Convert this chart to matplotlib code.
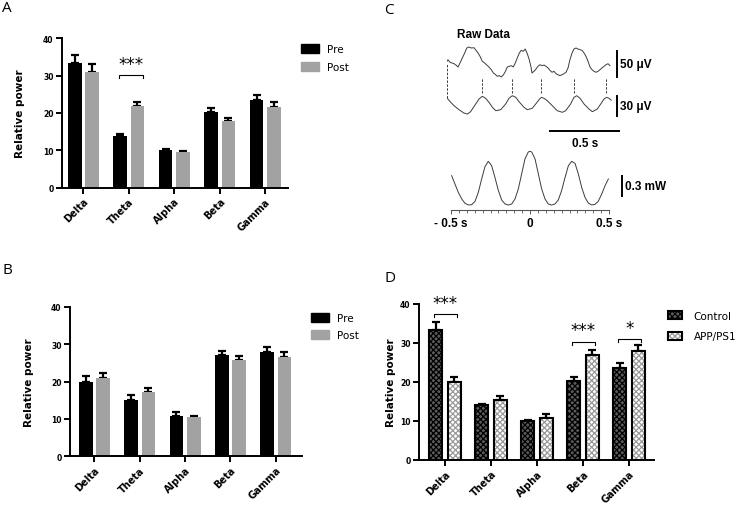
import numpy as np
import matplotlib
matplotlib.use('Agg')
import matplotlib.pyplot as plt
from matplotlib.patches import Patch

# ---------------- data ----------------
bands = ['Delta', 'Theta', 'Alpha', 'Beta', 'Gamma']

a_pre = [33.4, 13.9, 10.0, 20.4, 23.6]
a_pre_err = [2.1, 0.6, 0.45, 1.0, 1.3]
a_post = [31.1, 21.8, 9.45, 17.8, 21.5]
a_post_err = [2.0, 1.2, 0.35, 0.95, 1.5]

b_pre = [20.0, 15.2, 10.9, 27.05, 28.0]
b_pre_err = [1.4, 1.25, 1.0, 1.25, 1.4]
b_post = [21.0, 17.1, 10.5, 25.8, 26.6]
b_post_err = [1.25, 1.15, 0.35, 1.2, 1.25]

d_ctrl = [33.35, 14.0, 9.9, 20.3, 23.6]
d_ctrl_err = [2.1, 0.45, 0.35, 1.0, 1.2]
d_app = [19.96, 15.3, 10.75, 26.95, 27.97]
d_app_err = [1.45, 1.1, 1.1, 1.35, 1.5]

a_sig = {'Theta': '***'}
d_sig = {'Delta': '***', 'Beta': '***', 'Gamma': '*'}

# panel C: raw trace (s, uV)
raw_t = [0.000, 0.007, 0.022, 0.036, 0.051, 0.065, 0.080, 0.094, 0.111, 0.128,
         0.143, 0.159, 0.176, 0.196, 0.210, 0.225, 0.239, 0.256, 0.273, 0.288,
         0.304, 0.321, 0.336, 0.353, 0.364, 0.379, 0.393, 0.408, 0.422, 0.437,
         0.451, 0.466, 0.480, 0.495, 0.509, 0.524, 0.538, 0.553, 0.567, 0.582,
         0.596, 0.609, 0.616, 0.630, 0.645, 0.659, 0.674, 0.688, 0.703, 0.717,
         0.732, 0.746, 0.761, 0.775, 0.790, 0.804, 0.819, 0.833, 0.848, 0.862,
         0.877, 0.891, 0.906, 0.920, 0.935, 0.949, 0.964, 0.978, 0.993, 1.007,
         1.022, 1.036, 1.051, 1.065, 1.080, 1.094, 1.109, 1.123, 1.138, 1.152,
         1.167, 1.181]
raw_uv = [1.3, 4.4, -0.6, -1.9, -3.3, -5.8, -9.6, -1.9, 7.7, 17.3,
          26.9, 28.8, 26.9, 27.5, 22.5, 17.3, 11.0, 1.3, -1.9, -5.8,
          -9.6, -14.8, -21.2, -24.4, -27.5, -26.3, -28.8, -25.0, -18.7, -9.6,
          -8.3, -7.1, -9.6, -1.9, 7.7, 17.3, 22.5, 20.6, 25.0, 16.0,
          4.4, -10.0, -21.2, -17.9, -13.5, -8.3, -5.2, -7.1, -5.8, -8.3,
          -11.5, -16.0, -19.8, -17.9, -22.5, -24.4, -26.3, -24.4, -22.5, -19.8,
          -11.5, 4.4, 17.3, 25.0, 26.9, 25.0, 23.7, 22.5, 17.3, 11.0,
          1.3, -9.6, -14.8, -17.9, -19.8, -17.9, -14.8, -11.5, -8.3, -5.2,
          -3.3, -7.1]

# panel C: filtered trace (s, uV)
filt_t = [0.002, 0.027, 0.051, 0.087, 0.123, 0.147, 0.171, 0.208, 0.232, 0.256,
          0.280, 0.304, 0.329, 0.353, 0.389, 0.425, 0.449, 0.473, 0.498, 0.522,
          0.558, 0.582, 0.618, 0.643, 0.667, 0.684, 0.703, 0.727, 0.763, 0.799,
          0.836, 0.860, 0.896, 0.920, 0.940, 0.964, 0.993, 1.029, 1.053, 1.089,
          1.114, 1.138, 1.157, 1.174, 1.190]
filt_uv = [9.3, 3.3, -1.8, -7.8, -12.8, -14.3, -10.8, 0.8, 8.3, 12.3,
           9.3, 3.3, -4.2, -9.3, -7.8, 0.8, 9.3, 13.2, 10.8, 4.2,
           -4.2, -7.8, -5.7, 0.8, 7.2, 10.8, 9.3, 5.7, -1.8, -9.3,
           -11.7, -9.3, 0.8, 10.8, 13.2, 9.3, 0.8, -6.8, -10.8, -6.8,
           0.8, 8.3, 10.8, 9.3, 6.5]

# times of the dashed alignment markers (s)
mark_t = [0.0, 0.254, 0.471, 0.681, 0.920, 1.152]

# panel C: autocorrelation (lag s, mW)
ac_lag = [-0.496, -0.475, -0.454, -0.432, -0.411, -0.390, -0.369, -0.348, -0.327, -0.306,
          -0.285, -0.264, -0.243, -0.222, -0.200, -0.179, -0.158, -0.137, -0.116, -0.095,
          -0.074, -0.053, -0.032, -0.011, 0.000, 0.011, 0.032, 0.053, 0.074, 0.095,
          0.116, 0.137, 0.158, 0.179, 0.200, 0.222, 0.243, 0.264, 0.285, 0.306,
          0.327, 0.348, 0.369, 0.390, 0.411, 0.432, 0.454, 0.475, 0.496]
ac_mw = [0.44, 0.315, 0.19, 0.09, 0.025, 0.0, 0.005, 0.055, 0.19, 0.39,
         0.575, 0.655, 0.59, 0.415, 0.215, 0.075, 0.015, 0.0, 0.015, 0.09,
         0.24, 0.465, 0.69, 0.795, 0.805, 0.795, 0.69, 0.465, 0.24, 0.09,
         0.015, 0.0, 0.015, 0.075, 0.215, 0.415, 0.59, 0.655, 0.625, 0.465,
         0.265, 0.115, 0.03, 0.0, 0.01, 0.055, 0.165, 0.29, 0.39]

# ---------------- figure ----------------
W, H = 745, 506
fig = plt.figure(figsize=(W / 100, H / 100), dpi=100)
plt.rcParams['hatch.linewidth'] = 0.9


def rect(l, t, r, b):
    return [l / W, 1 - b / H, (r - l) / W, (b - t) / H]


TICK_FS = 5.5
BOLD = dict(family='DejaVu Sans', weight='bold')


def style_bar_axes(ax, xlim, labelpad):
    ax.set_ylim(0, 40)
    ax.set_xlim(*xlim)
    ax.set_yticks([0, 10, 20, 30, 40])
    ax.set_xticks(range(len(bands)))
    ax.set_xticklabels(bands, rotation=45, ha='right', rotation_mode='anchor',
                       fontsize=7, **BOLD)
    for lab in ax.get_yticklabels():
        lab.set_fontsize(TICK_FS)
        lab.set_fontweight('bold')
        lab.set_family('DejaVu Sans')
    for s in ['top', 'right']:
        ax.spines[s].set_visible(False)
    for s in ['left', 'bottom']:
        ax.spines[s].set_linewidth(1.4)
    ax.tick_params(axis='both', width=1.4, length=4, pad=2)
    ax.set_ylabel('Relative power', fontsize=7.5, labelpad=labelpad, **BOLD)


def errbars(ax, x, y, e):
    ax.errorbar(x, y, yerr=[np.zeros(len(e)), e], fmt='none', ecolor='black',
                elinewidth=1.6, capsize=2.6, capthick=1.6, zorder=1)


def bracket(ax, i, y, text, off=0.2, drop=0.8):
    ax.plot([i - off, i - off, i + off, i + off], [y - drop, y, y, y - drop],
            color='black', lw=0.8)
    ax.text(i, y + 0.6, text, ha='center', va='bottom',
            fontsize=12, family='DejaVu Sans')


x = np.arange(len(bands))
OFF, WID = 0.19, 0.30
LEG = dict(loc='upper left', frameon=False, fontsize=7.5, borderpad=0, borderaxespad=0)

# ---- Panel A ----
axA = fig.add_axes(rect(62, 39.3, 288, 188.7))
axA.bar(x - OFF, a_pre, WID, color='black', zorder=2)
axA.bar(x + OFF, a_post, WID, color='#a2a2a2', zorder=2)
errbars(axA, x - OFF, a_pre, a_pre_err)
errbars(axA, x + OFF, a_post, a_post_err)
style_bar_axes(axA, (-0.47, 4.5), 13)
for k, t in a_sig.items():
    i = bands.index(k)
    bracket(axA, i + 0.05, 30.1, t, off=0.26)
fig.legend([Patch(color='black'), Patch(color='#a2a2a2')], ['Pre', 'Post'],
           bbox_to_anchor=(301 / W, 1 - 45 / H), handlelength=1.75, handleheight=0.95,
           handletextpad=0.75, labelspacing=0.75, **LEG)

# ---- Panel B ----
axB = fig.add_axes(rect(70, 308, 302, 457.3))
axB.bar(x - OFF, b_pre, WID, color='black', zorder=2)
axB.bar(x + OFF, b_post, WID, color='#a2a2a2', zorder=2)
errbars(axB, x - OFF, b_pre, b_pre_err)
errbars(axB, x + OFF, b_post, b_post_err)
style_bar_axes(axB, (-0.54, 4.58), 12)
fig.legend([Patch(color='black'), Patch(color='#a2a2a2')], ['Pre', 'Post'],
           bbox_to_anchor=(311 / W, 1 - 314 / H), handlelength=1.75, handleheight=0.95,
           handletextpad=0.75, labelspacing=0.65, **LEG)

# ---- Panel D ----
axD = fig.add_axes(rect(419, 305, 654, 461))
OFFD, WIDD = 0.2, 0.28
ctrl_fill = dict(facecolor='#5c5c5c', edgecolor='black', hatch='xxxxxx', linewidth=0)
app_fill = dict(facecolor='white', edgecolor='#9a9a9a', hatch='xxxxxx', linewidth=0)
outline = dict(fill=False, edgecolor='black', linewidth=1.5)
axD.bar(x - OFFD, d_ctrl, WIDD, zorder=2, **ctrl_fill)
axD.bar(x - OFFD, d_ctrl, WIDD, zorder=3, **outline)
axD.bar(x + OFFD, d_app, WIDD, zorder=2, **app_fill)
axD.bar(x + OFFD, d_app, WIDD, zorder=3, **outline)
errbars(axD, x - OFFD, d_ctrl, d_ctrl_err)
errbars(axD, x + OFFD, d_app, d_app_err)
style_bar_axes(axD, (-0.565, 4.54), 3)
sig_y = {'Delta': 37.4, 'Beta': 30.3, 'Gamma': 31.0}
for k, t in d_sig.items():
    i = bands.index(k)
    bracket(axD, i, sig_y[k], t, off=0.25)
h1 = (Patch(**ctrl_fill), Patch(**outline))
h2 = (Patch(**app_fill), Patch(**outline))
fig.legend([h1, h2], ['Control', 'APP/PS1'],
           bbox_to_anchor=(668 / W, 1 - 312 / H), handlelength=1.35, handleheight=0.8,
           handletextpad=1.1, labelspacing=1.0, **LEG)

# ---- Panel C ----
CF = dict(family='Liberation Sans', weight='bold', fontsize=8.5)
PXS = 138.0  # px per second in trace panels
axR = fig.add_axes(rect(447, 63 - 40 / 1.923, 447 + 1.2 * PXS, 63 + 40 / 1.923))
axR.plot(raw_t, raw_uv, color='#3c3c3c', lw=0.7)
axR.set_xlim(0, 1.2)
axR.set_ylim(-40, 40)
axR.axis('off')
axR.text(0.072, 53.8, 'Raw Data', ha='left', va='center', **CF)
axR.plot([1.232, 1.232], [-28.8, 21.2], color='black', lw=1.4, clip_on=False)
axR.text(1.255, -3.8, '50 \u03bcV', ha='left', va='center', **CF)

axF = fig.add_axes(rect(447, 105.5 - 20 / 1.5, 447 + 1.2 * PXS, 105.5 + 20 / 1.5))
axF.plot(filt_t, filt_uv, color='#3c3c3c', lw=0.7)
axF.set_xlim(0, 1.2)
axF.set_ylim(-20, 20)
axF.axis('off')
for j, t in enumerate(mark_t):
    lo, hi = (10, 61) if j == 0 else (18, 40)
    axF.plot([t, t], [lo, hi], color='#3c3c3c', lw=0.7, ls=(0, (2.5, 1.5)),
             clip_on=False)
axF.plot([1.232, 1.232], [-17.25, 12.75], color='black', lw=1.4, clip_on=False)
axF.text(1.255, -2.25, '30 \u03bcV', ha='left', va='center', **CF)
axF.plot([0.746, 1.246], [-39.75, -39.75], color='black', lw=1.4, clip_on=False)
axF.text(1.0, -57.5, '0.5 s', ha='center', va='center', zorder=5, **CF)

axC = fig.add_axes(rect(451, 146, 609, 211))
axC.patch.set_visible(False)
axC.plot(ac_lag, ac_mw, color='#3c3c3c', lw=0.7)
axC.set_xlim(-0.5, 0.5)
axC.set_ylim(-0.075, 0.9)
for s in ['top', 'right', 'left']:
    axC.spines[s].set_visible(False)
axC.spines['bottom'].set_color('#555555')
axC.spines['bottom'].set_linewidth(0.8)
axC.set_yticks([])
axC.set_xticks([-0.5, 0, 0.5])
axC.set_xticklabels(['- 0.5 s', '0', '0.5 s'], **CF)
axC.set_xticks(np.arange(-0.5, 0.501, 0.05), minor=True)
axC.tick_params(axis='x', which='major', length=3, width=0.7, color='#555555', pad=2)
axC.tick_params(axis='x', which='minor', length=2, width=0.6, color='#555555')
axC.plot([0.582, 0.582], [0.135, 0.435], color='black', lw=1.4, clip_on=False)
axC.text(0.6, 0.285, '0.3 mW', ha='left', va='center', **CF)

# ---- panel letters ----
for lab, (px, py) in {'A': (2, 9), 'B': (2, 271), 'C': (384, 11), 'D': (384, 278)}.items():
    fig.text(px / W, 1 - py / H, lab, ha='left', va='center', fontsize=11,
             family='Open Sans')

fig.savefig('out.png', dpi=100)
